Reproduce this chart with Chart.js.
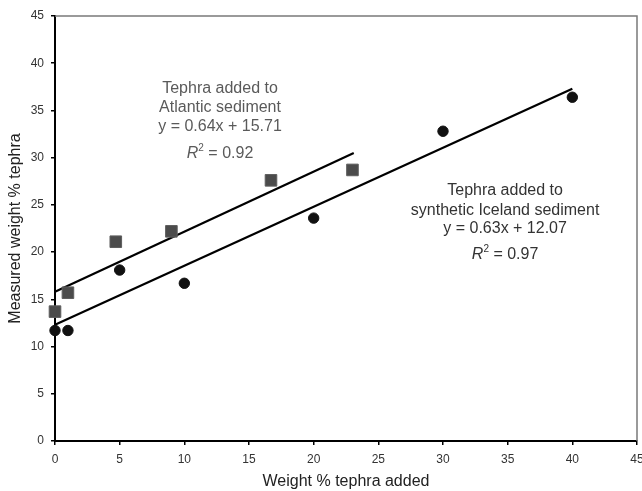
<!DOCTYPE html>
<html>
<head>
<meta charset="utf-8">
<script src="https://cdn.jsdelivr.net/npm/chart.js@4.4.1/dist/chart.umd.min.js"></script>
<style>
  html, body { margin: 0; padding: 0; background: #fff; }
  #wrap { width: 642px; height: 491px; }
</style>
</head>
<body>
<div id="wrap"><canvas id="c" width="642" height="491"></canvas></div>
<script>
// ---- data ----
const icelandX = [0, 1, 5, 10, 20, 30, 40];
const icelandY = [11.7, 11.7, 18.1, 16.7, 23.6, 32.8, 36.4];
const atlanticX = [0, 1, 4.7, 9, 16.7, 23];
const atlanticY = [13.7, 15.7, 21.1, 22.2, 27.6, 28.7];
const atlanticFitX = [0, 23.1];
const atlanticFitY = [15.8, 30.5];
const icelandFitX = [0, 40];
const icelandFitY = [12.3, 37.3];
const xTicks = [0, 5, 10, 15, 20, 25, 30, 35, 40, 45];
const yTicks = [0, 5, 10, 15, 20, 25, 30, 35, 40, 45];
const atlanticNote = ["Tephra added to", "Atlantic sediment", "y = 0.64x + 15.71", "0.92"];
const icelandNote = ["Tephra added to", "synthetic Iceland sediment", "y = 0.63x + 12.07", "0.97"];

const pts = (xs, ys) => xs.map((x, i) => ({ x: x, y: ys[i] }));
const FONT = "Arial, 'Liberation Sans', sans-serif";

const notesPlugin = {
  id: 'notes',
  afterDatasetsDraw(chart) {
    const ctx = chart.ctx;
    const xs = chart.scales.x, ys = chart.scales.y;
    function block(lines, cx, yvals, color) {
      ctx.save();
      ctx.fillStyle = color;
      ctx.textBaseline = 'middle';
      ctx.textAlign = 'center';
      ctx.font = '16px ' + FONT;
      const px = xs.getPixelForValue(cx);
      for (let i = 0; i < 3; i++) {
        ctx.fillText(lines[i], px, ys.getPixelForValue(yvals[i]));
      }
      const py = ys.getPixelForValue(yvals[3]);
      ctx.textAlign = 'left';
      ctx.font = 'italic 16px ' + FONT;
      const wR = ctx.measureText('R').width;
      ctx.font = '10px ' + FONT;
      const w2 = ctx.measureText('2').width;
      ctx.font = '16px ' + FONT;
      const rest = ' = ' + lines[3];
      const wRest = ctx.measureText(rest).width;
      let x0 = px - (wR + w2 + wRest) / 2;
      ctx.font = 'italic 16px ' + FONT;
      ctx.fillText('R', x0, py);
      ctx.font = '10px ' + FONT;
      ctx.fillText('2', x0 + wR, py - 5);
      ctx.font = '16px ' + FONT;
      ctx.fillText(rest, x0 + wR + w2, py);
      ctx.restore();
    }
    block(atlanticNote, 12.76, [37.36, 35.35, 33.24, 30.48], '#5a5a5a');
    block(icelandNote, 34.8, [26.56, 24.42, 22.53, 19.78], '#333');
  }
};

const framePlugin = {
  id: 'frame',
  beforeDatasetsDraw(chart) {
    const a = chart.chartArea, ctx = chart.ctx;
    ctx.save();
    ctx.strokeStyle = '#7a7a7a';
    ctx.lineWidth = 1.5;
    ctx.beginPath();
    ctx.moveTo(a.left, a.top);
    ctx.lineTo(a.right, a.top);
    ctx.lineTo(a.right, a.bottom);
    ctx.stroke();
    ctx.restore();
  }
};

new Chart(document.getElementById('c'), {
  type: 'scatter',
  data: {
    datasets: [
      { label: 'Atlantic fit', type: 'line', data: pts(atlanticFitX, atlanticFitY), clip: false,
        borderColor: '#000', borderWidth: 2.2, pointRadius: 0, fill: false, order: 3 },
      { label: 'Iceland fit', type: 'line', data: pts(icelandFitX, icelandFitY), clip: false,
        borderColor: '#000', borderWidth: 2.2, pointRadius: 0, fill: false, order: 3 },
      { label: 'Atlantic', data: pts(atlanticX, atlanticY), pointStyle: 'rect', clip: false,
        pointRadius: 8.2, backgroundColor: '#4b4b4b', borderColor: '#5e5e5e', borderWidth: 1, order: 1 },
      { label: 'Iceland', data: pts(icelandX, icelandY), pointStyle: 'circle', clip: false,
        pointRadius: 5.2, backgroundColor: '#111', borderColor: '#111', borderWidth: 1, order: 2 }
    ]
  },
  options: {
    responsive: false,
    animation: false,
    events: [],
    layout: { autoPadding: false, padding: { top: 16, right: 5, left: 0, bottom: 0 } },
    plugins: { legend: { display: false }, tooltip: { enabled: false } },
    scales: {
      x: {
        type: 'linear', min: 0, max: 45,
        afterBuildTicks(s) { s.ticks = xTicks.map(v => ({ value: v })); },
        afterFit(s) { s.height = 50; s.paddingLeft = 0; s.paddingRight = 0; },
        grid: { drawOnChartArea: false, drawTicks: true, tickLength: 4, color: '#000', lineWidth: 1.5 },
        border: { color: '#000', width: 2 },
        ticks: { color: '#333', font: { family: FONT, size: 12 }, padding: 7, maxRotation: 0 },
        title: { display: true, text: 'Weight % tephra added', color: '#222',
                 font: { family: FONT, size: 16 }, padding: { top: 2, bottom: 0 } }
      },
      y: {
        type: 'linear', min: 0, max: 45,
        afterBuildTicks(s) { s.ticks = yTicks.map(v => ({ value: v })); },
        afterFit(s) { s.width = 55; s.paddingTop = 0; s.paddingBottom = 0; },
        grid: { drawOnChartArea: false, drawTicks: true, tickLength: 4, color: '#000', lineWidth: 1.5 },
        border: { color: '#000', width: 2 },
        ticks: { color: '#333', font: { family: FONT, size: 12 }, padding: 7 },
        title: { display: true, text: 'Measured weight % tephra', color: '#222',
                 font: { family: FONT, size: 16 }, padding: { top: 6, bottom: 2 } }
      }
    }
  },
  plugins: [framePlugin, notesPlugin]
});
</script>
</body>
</html>
